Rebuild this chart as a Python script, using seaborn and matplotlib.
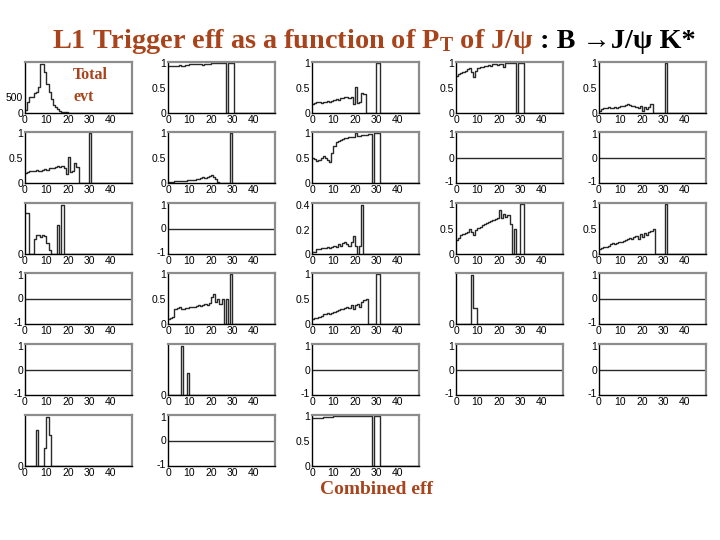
# L1 trigger efficiency vs PT of J/psi, B -> J/psi K* (ROOT-style grid of small histograms)

import matplotlib
matplotlib.use("Agg")
import matplotlib.pyplot as plt
import seaborn as sns
from matplotlib.ticker import MultipleLocator, FixedLocator

sns.set_theme(style="white")
plt.rcParams['font.family'] = ['Liberation Sans', 'DejaVu Sans']
plt.rcParams['mathtext.fontset'] = 'custom'
plt.rcParams['mathtext.rm'] = 'Liberation Serif:bold'
plt.rcParams['mathtext.bf'] = 'Liberation Serif:bold'
plt.rcParams['mathtext.it'] = 'Liberation Serif:bold'

BROWN = '#A8441C'
LINE = '#2a2a2a'
FRAME = '#8c8c8c'

# 1 GeV bins, 0-50
pt_edges = list(range(0, 51))
xticks = [0, 10, 20, 30, 40]

# bin contents, starting at bin 0 (bins not listed are empty)
total_evt = [100, 350, 480, 500, 620, 650, 800, 1500, 1500, 1250, 900, 650, 420, 260,
             170, 110, 70, 45, 30, 20, 12, 8, 5, 3, 2, 1]
eff_r1c2 = [0.95, 0.95, 0.94, 0.95, 0.95, 0.96, 0.95, 0.95, 0.96, 0.96, 0.97, 0.97, 0.97,
            0.97, 0.98, 0.98, 0.97, 0.98, 0.98, 0.99, 1, 1, 1, 1, 1, 1, 1, 0, 1, 1, 1]
eff_r1c3 = [0.18, 0.2, 0.22, 0.22, 0.21, 0.23, 0.22, 0.24, 0.22, 0.25, 0.26, 0.28, 0.27,
            0.3, 0.3, 0.32, 0.33, 0.31, 0.33, 0.18, 0.52, 0.2, 0.22, 0.4, 0.38,
            0, 0, 0, 0, 0, 1, 1]
eff_r1c4 = [0.75, 0.78, 0.8, 0.82, 0.85, 0.88, 0.9, 0.82, 0.72, 0.85, 0.9, 0.92, 0.93,
            0.95, 0.95, 0.96, 0.95, 0.97, 0.97, 0.96, 0.98, 0.99, 0.93, 1, 1, 1, 1, 1,
            0, 1, 1, 1]
eff_r1c5 = [0.05, 0.08, 0.1, 0.1, 0.12, 0.1, 0.11, 0.12, 0.1, 0.13, 0.14, 0.15, 0.16,
            0.18, 0.17, 0.15, 0.14, 0.12, 0.1, 0.15, 0.05, 0.12, 0.08, 0.12, 0.18,
            0, 0, 0, 0, 0, 0, 1]
eff_r2c1 = [0.2, 0.22, 0.25, 0.24, 0.25, 0.26, 0.25, 0.24, 0.26, 0.28, 0.27, 0.3, 0.3,
            0.31, 0.32, 0.35, 0.33, 0.34, 0.3, 0.18, 0.52, 0.22, 0.25, 0.4, 0.32,
            0, 0, 0, 0, 0, 1]
eff_r2c2 = [0.02, 0.03, 0.03, 0.04, 0.04, 0.05, 0.04, 0.05, 0.05, 0.06, 0.06, 0.07, 0.07,
            0.08, 0.09, 0.1, 0.12, 0.1, 0.13, 0.15, 0.17, 0.12, 0.08, 0.03,
            0, 0, 0, 0, 0, 1]
eff_r2c3 = [0.5, 0.48, 0.45, 0.47, 0.5, 0.55, 0.5, 0.47, 0.42, 0.6, 0.75, 0.82, 0.85,
            0.87, 0.88, 0.9, 0.9, 0.92, 0.93, 0.93, 1.0, 0.94, 0.95, 0.97, 0.97, 0.97,
            0.98, 0.98, 0, 1, 1, 1]
eff_r3c1 = [0.85, 0.85, 0, 0, 0.3, 0.4, 0.4, 0.35, 0.4, 0.38, 0.22, 0.08, 0, 0, 0,
            0.6, 0, 1.0]
eff_r3c3 = [0.02, 0.02, 0.04, 0.04, 0.05, 0.05, 0.05, 0.06, 0.05, 0.06, 0.07, 0.06,
            0.08, 0.07, 0.09, 0.1, 0.08, 0.07, 0.1, 0.15, 0.07, 0.0, 0.07, 0.4]
eff_r3c4 = [0.28, 0.32, 0.38, 0.4, 0.42, 0.45, 0.5, 0.45, 0.38, 0.48, 0.52, 0.55, 0.58,
            0.6, 0.63, 0.65, 0.67, 0.68, 0.7, 0.72, 0.88, 0.72, 0.8, 0.75, 0.78, 0.6,
            0.0, 0.5, 0, 0, 1, 1]
eff_r3c5 = [0.1, 0.12, 0.14, 0.15, 0.17, 0.2, 0.22, 0.2, 0.22, 0.24, 0.25, 0.27, 0.28,
            0.3, 0.32, 0.3, 0.35, 0.37, 0.3, 0.4, 0.35, 0.42, 0.38, 0.45, 0.47, 0.5,
            0, 0, 0, 0, 0, 1]
eff_r4c2 = [0.1, 0.12, 0.15, 0.3, 0.32, 0.35, 0.3, 0.3, 0.32, 0.33, 0.35, 0.35, 0.34,
            0.37, 0.38, 0.36, 0.38, 0.4, 0.38, 0.42, 0.55, 0.6, 0.45, 0.5, 0.4, 0.5,
            0.0, 0.5, 0, 1]
eff_r4c3 = [0.1, 0.12, 0.13, 0.15, 0.17, 0.2, 0.2, 0.22, 0.2, 0.22, 0.25, 0.27, 0.28,
            0.3, 0.3, 0.32, 0.35, 0.33, 0.38, 0.3, 0.38, 0.4, 0.35, 0.45, 0.48, 0.5,
            0, 0, 0, 0, 1, 1]
eff_r4c4 = [0, 0, 0, 0, 0, 0, 0, 1.0, 0.33, 0.33]
eff_r5c2 = [0, 0, 0, 0, 0, 0, 1.0, 0, 0, 0.45]
eff_r6c1 = [0, 0, 0, 0, 0, 0.75, 0, 0, 0, 0.38, 1.0, 0.63]
combined_eff = [0.97, 0.96, 0.96, 0.97, 0.97, 0.98, 0.98, 0.99, 0.99, 0.99, 1, 1, 1,
                1, 1, 1, 1, 1, 1, 1, 1, 1, 1, 1, 1, 1, 1, 1, 0, 1, 1, 1]
empty = []

# (values, y-axis style) on a 6 x 5 grid
panels = [
    [(total_evt, 'evt'), (eff_r1c2, 'eff'), (eff_r1c3, 'eff'), (eff_r1c4, 'eff'), (eff_r1c5, 'eff')],
    [(eff_r2c1, 'eff'), (eff_r2c2, 'eff'), (eff_r2c3, 'eff'), (empty, 'flat'), (empty, 'flat')],
    [(eff_r3c1, 'zero'), (empty, 'flat'), (eff_r3c3, 'eff04'), (eff_r3c4, 'eff'), (eff_r3c5, 'eff')],
    [(empty, 'flat'), (eff_r4c2, 'eff'), (eff_r4c3, 'eff'), (eff_r4c4, 'zero'), (empty, 'flat')],
    [(empty, 'flat'), (eff_r5c2, 'zero'), (empty, 'flat'), (empty, 'flat'), (empty, 'flat')],
    [(eff_r6c1, 'zero'), (empty, 'flat'), (combined_eff, 'eff'), None, None],
]

col_left = [25, 168, 312, 456, 599]
row_top = [62, 132, 203, 273, 344, 415]
W, H = 107, 51

fig = plt.figure(figsize=(7.2, 5.4), dpi=100)
fig.patch.set_facecolor('white')


def style_axes(ax):
    ax.set_facecolor('white')
    for side in ['left', 'bottom']:
        ax.spines[side].set_color('black')
        ax.spines[side].set_linewidth(1.0)
    for side in ['top', 'right']:
        ax.spines[side].set_color(FRAME)
        ax.spines[side].set_linewidth(1.6)
    ax.set_xlim(0, 50)
    ax.xaxis.set_major_locator(FixedLocator(xticks))
    ax.xaxis.set_minor_locator(MultipleLocator(2))
    ax.tick_params(which='both', direction='in', color='black', width=0.7,
                   labelsize=7.5, pad=1.5, labelcolor='black')
    ax.tick_params(which='major', length=4)
    ax.tick_params(which='minor', length=2)
    ax.set_xlabel('')
    ax.set_ylabel('')


for r, row in enumerate(panels):
    for c, spec in enumerate(row):
        if spec is None:
            continue
        vals, kind = spec
        ax = fig.add_axes([col_left[c] / 720, 1 - (row_top[r] + H) / 540, W / 720, H / 540])
        if kind == 'flat':
            ax.axhline(0, color=LINE, lw=1.0)
        else:
            centers = [i + 0.5 for i in range(len(vals))]
            sns.histplot(x=centers, weights=vals, bins=pt_edges, element='step',
                         fill=False, color=LINE, linewidth=1.0, ax=ax)
        style_axes(ax)
        if kind == 'evt':
            ax.set_ylim(0, 1560)
            ax.set_yticks([0, 500])
            ax.set_yticklabels(['0', '500'])
            ax.yaxis.set_minor_locator(MultipleLocator(100))
        elif kind == 'eff':
            ax.set_ylim(0, 1.02)
            ax.set_yticks([0, 0.5, 1])
            ax.set_yticklabels(['0', '0.5', '1'])
            ax.yaxis.set_minor_locator(MultipleLocator(0.05))
        elif kind == 'eff04':
            ax.set_ylim(0, 0.42)
            ax.set_yticks([0, 0.2, 0.4])
            ax.set_yticklabels(['0', '0.2', '0.4'])
            ax.yaxis.set_minor_locator(MultipleLocator(0.02))
        elif kind == 'zero':
            ax.set_ylim(0, 1.05)
            ax.set_yticks([0])
            ax.set_yticklabels(['0'])
            ax.yaxis.set_minor_locator(MultipleLocator(0.05))
        else:
            ax.set_ylim(-1.1, 1.1)
            ax.set_yticks([-1, 0, 1])
            ax.set_yticklabels(['-1', '0', '1'])
            ax.yaxis.set_minor_locator(MultipleLocator(0.1))
        if r == 0 and c == 0:
            ax.text(0.45, 0.75, 'Total', transform=ax.transAxes, color=BROWN,
                    fontsize=11.5, fontweight='bold', family='Liberation Serif',
                    va='center', ha='left')
            ax.text(0.45, 0.32, 'evt', transform=ax.transAxes, color=BROWN,
                    fontsize=11.5, fontweight='bold', family='Liberation Serif',
                    va='center', ha='left')

# title: brown part then black part
t1 = fig.text(52 / 720, 1 - 48 / 540,
              r'L1 Trigger eff as a function of $\mathrm{P}_\mathrm{T}$ of J/ψ',
              color=BROWN, fontsize=20.3, fontweight='bold',
              family=['Liberation Serif', 'DejaVu Serif'], ha='left', va='baseline')
fig.canvas.draw()
bb = t1.get_window_extent()
fig.text((bb.x1 + 6) / 720, 1 - 48 / 540, ': B →J/ψ K*', color='black', fontsize=20.3,
         fontweight='bold', family=['Liberation Serif', 'DejaVu Serif'],
         ha='left', va='baseline')

fig.text(320 / 720, 1 - 490 / 540, 'Combined eff', color=BROWN, fontsize=14,
         fontweight='bold', family='Liberation Serif', ha='left', va='center')

fig.savefig('out.png', dpi=100)
